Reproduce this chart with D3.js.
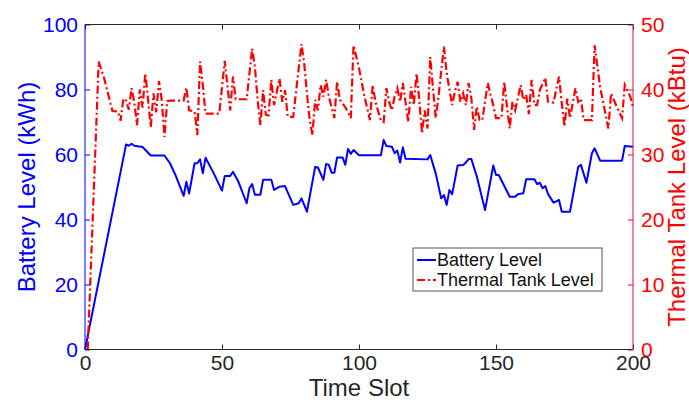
<!DOCTYPE html>
<html>
<head>
<meta charset="utf-8">
<script src="https://cdn.jsdelivr.net/npm/d3@7"></script>
<style>
  body { margin: 0; background: #fff; }
  text { font-family: "Liberation Sans", Arial, sans-serif; }
</style>
</head>
<body>
<div id="main"></div>
<script>
// battery level (kWh), at the slots where the line turns
const battSlots = [0, 15, 16, 17, 18, 21, 24, 29, 31, 33, 36, 37, 38, 40, 41, 42, 43, 44, 47, 50,
  51, 53, 54, 56, 59, 60, 61, 62, 64, 65, 68, 69, 71, 73, 76, 78, 79, 80, 81, 84,
  85, 87, 88, 89, 90, 91, 92, 94, 95, 96, 97, 98, 100, 108, 109, 110, 112, 113, 114, 115,
  116, 117, 125, 126, 128, 130, 131, 132, 133, 134, 136, 138, 139, 140, 141, 143, 146, 149, 150, 151,
  155, 157, 158, 160, 161, 164, 165, 166, 167, 168, 169, 171, 173, 174, 177, 180, 181, 183, 185, 186,
  188, 196, 197, 200];
const battLevel = [0, 63.1, 62.7, 63.3, 62.7, 62.3, 59.7, 59.7, 57.3, 53.7, 47.3, 51.6, 48, 57.3, 57.3, 58.5, 54.2, 59, 54.2, 48.9,
  53.4, 53.4, 54.7, 51.6, 45, 49.6, 50.9, 47.6, 47.6, 52.2, 52.2, 49.1, 50.1, 50.3, 44.5, 45, 46.5, 44.5, 42.4, 56.2,
  56, 52.2, 57.1, 56.8, 54.4, 54.4, 59.1, 59.1, 56.8, 61.7, 60.2, 61.4, 59.8, 59.8, 64.5, 62.6, 62.4, 60.4, 61.2, 57.5,
  62.2, 58.7, 58.5, 59.8, 54.2, 46.5, 47.5, 44.5, 49.1, 47.8, 56.6, 56.8, 57.5, 58.6, 58.6, 53.2, 42.9, 56.6, 53.7, 53.7,
  47, 47, 47.8, 48.1, 52.4, 52.4, 50.9, 51.3, 49.6, 50.3, 47.8, 45.2, 46, 42.4, 42.4, 56.2, 56.8, 51.3, 60.4, 61.9,
  58.1, 58.1, 62.6, 62.4];

// thermal tank level (kBtu)
const tankSlots = [1, 5, 7, 10, 12, 13, 14, 15, 16, 17, 18, 19, 20, 21, 22, 23, 24, 25, 26, 27,
  28, 29, 30, 31, 36, 37, 38, 40, 41, 42, 43, 44, 49, 51, 52, 53, 54, 55, 59, 61,
  62, 63, 64, 65, 66, 67, 68, 69, 70, 71, 72, 73, 74, 76, 79, 80, 81, 82, 83, 84,
  85, 86, 87, 88, 89, 91, 92, 93, 95, 97, 98, 100, 102, 104, 105, 106, 108, 109, 110, 111,
  112, 113, 114, 115, 116, 118, 119, 120, 121, 122, 123, 124, 125, 126, 127, 128, 129, 131, 132, 134,
  135, 136, 137, 138, 139, 140, 141, 142, 143, 144, 145, 147, 148, 149, 150, 152, 153, 154, 155, 156,
  157, 159, 160, 161, 162, 163, 164, 165, 166, 168, 169, 171, 173, 174, 175, 176, 177, 179, 180, 181,
  182, 185, 186, 188, 191, 192, 194, 196, 197, 199, 200];
const tankLevel = [0, 44.3, 41.7, 36.7, 36.6, 35.2, 38.6, 38.3, 36.9, 40.2, 38, 34.5, 40, 37.2, 42.5, 38.5, 34.2, 39.4, 36.5, 41.3,
  38.4, 32.7, 38.2, 38.3, 38.3, 40.3, 36.8, 36.6, 33, 44.3, 40.7, 36.3, 36.3, 44.4, 40.5, 36.8, 42, 38.5, 38.5, 46.3,
  43.5, 38.4, 34.5, 39.9, 36.1, 36, 41.5, 37.6, 39.7, 41.7, 38.1, 39.9, 35.8, 35.8, 47, 44, 39.4, 35.3, 33, 38.4,
  36.8, 40.7, 38.9, 41.5, 38.9, 35.6, 41.2, 38.4, 37.3, 35.6, 46.8, 43.3, 38.9, 35.3, 40.7, 38.1, 35.2, 35, 40.2, 38.1,
  36.8, 38.9, 40.2, 38.1, 41, 35, 40.4, 37.6, 42.5, 38.4, 33.3, 36.8, 34, 45, 40.2, 35.6, 38.9, 46.6, 42.5, 37.6,
  39.7, 41.2, 38.1, 39.4, 37.6, 41, 38.7, 33.8, 37.4, 35.3, 35.3, 41, 39.2, 37.6, 35.6, 35.6, 41.2, 37.4, 34, 38.1,
  36.8, 40.7, 38.4, 39.2, 36.2, 41.5, 37.6, 37.6, 39.9, 41.8, 38.1, 38, 42, 37.9, 34.3, 38.6, 35.6, 40.2, 38.1, 38.6,
  35.3, 35.3, 46.8, 40.4, 34, 39.4, 37.4, 35.6, 40.7, 38.9, 37.3];

const xTicks = [0, 50, 100, 150, 200];
const leftTicks = [0, 20, 40, 60, 80, 100];
const rightTicks = [0, 10, 20, 30, 40, 50];
const seriesNames = ["Battery Level", "Thermal Tank Level"];

const W = 689, H = 403;
const box = { left: 85, right: 633, top: 24.5, bottom: 349.5 };
const BLUE = "#0000ff", RED = "#ff0000", DARK = "#262626";
const DASHDOT = "8,3,2,3";

const svg = d3.select("#main").append("svg")
    .attr("width", W)
    .attr("height", H);

const x = d3.scaleLinear().domain([0, 200]).range([box.left, box.right]);
const yL = d3.scaleLinear().domain([0, 100]).range([box.bottom, box.top]);
const yR = d3.scaleLinear().domain([0, 50]).range([box.bottom, box.top]);

// lines
const battData = battSlots.map((s, i) => [s, battLevel[i]]);
const tankData = tankSlots.map((s, i) => [s, tankLevel[i]]);

svg.append("path")
    .datum(battData)
    .attr("fill", "none")
    .attr("stroke", BLUE)
    .attr("stroke-width", 2)
    .attr("stroke-linejoin", "round")
    .attr("d", d3.line().x(d => x(d[0])).y(d => yL(d[1])));

svg.append("path")
    .datum(tankData)
    .attr("fill", "none")
    .attr("stroke", RED)
    .attr("stroke-width", 2.2)
    .attr("stroke-dasharray", DASHDOT)
    .attr("d", d3.line().x(d => x(d[0])).y(d => yR(d[1])));

// axes, ticks point inward like matlab
function styleAxis(g, color, size) {
    g.select(".domain").remove();
    g.selectAll(".tick line").attr("stroke", color);
    g.selectAll(".tick text")
        .attr("fill", color)
        .style("font-size", size + "px");
}

svg.append("g")
    .attr("transform", `translate(0,${box.bottom})`)
    .call(d3.axisBottom(x).tickValues(xTicks).tickSize(-5).tickPadding(6))
    .call(g => styleAxis(g, DARK, 21));

svg.append("g")
    .attr("transform", `translate(0,${box.top})`)
    .call(d3.axisTop(x).tickValues(xTicks).tickSize(-5).tickFormat(""))
    .call(g => styleAxis(g, DARK, 21));

svg.append("g")
    .attr("transform", `translate(${box.left},0)`)
    .call(d3.axisLeft(yL).tickValues(leftTicks).tickSize(-5).tickPadding(7))
    .call(g => styleAxis(g, BLUE, 21));

svg.append("g")
    .attr("transform", `translate(${box.right},0)`)
    .call(d3.axisRight(yR).tickValues(rightTicks).tickSize(-5).tickPadding(8))
    .call(g => styleAxis(g, RED, 21));

// frame
svg.append("line").attr("x1", box.left).attr("x2", box.right)
    .attr("y1", box.top).attr("y2", box.top).attr("stroke", DARK);
svg.append("line").attr("x1", box.left).attr("x2", box.right)
    .attr("y1", box.bottom).attr("y2", box.bottom).attr("stroke", DARK);
svg.append("line").attr("x1", box.left).attr("x2", box.left)
    .attr("y1", box.top).attr("y2", box.bottom).attr("stroke", BLUE);
svg.append("line").attr("x1", box.right).attr("x2", box.right)
    .attr("y1", box.top).attr("y2", box.bottom).attr("stroke", "#d0103a");

// axis titles
svg.append("text")
    .attr("x", (box.left + box.right) / 2)
    .attr("y", 396)
    .attr("text-anchor", "middle")
    .attr("fill", DARK)
    .style("font-size", "24px")
    .text("Time Slot");

svg.append("text")
    .attr("transform", `translate(35,${(box.top + box.bottom) / 2}) rotate(-90)`)
    .attr("text-anchor", "middle")
    .attr("fill", BLUE)
    .style("font-size", "24px")
    .text("Battery Level (kWh)");

svg.append("text")
    .attr("transform", `translate(685,${(box.top + box.bottom) / 2}) rotate(-90)`)
    .attr("text-anchor", "middle")
    .attr("fill", RED)
    .style("font-size", "24px")
    .text("Thermal Tank Level (kBtu)");

// legend
const leg = svg.append("g").attr("transform", "translate(413,248)");
leg.append("rect")
    .attr("width", 189)
    .attr("height", 43)
    .attr("fill", "#fff")
    .attr("stroke", "#555");
const legRows = leg.selectAll(".row")
    .data(seriesNames)
    .enter().append("g")
    .attr("transform", (d, i) => `translate(0,${12 + i * 20})`);
legRows.append("line")
    .attr("x1", 4).attr("x2", 23)
    .attr("stroke", (d, i) => i ? RED : BLUE)
    .attr("stroke-width", 2)
    .attr("stroke-dasharray", (d, i) => i ? DASHDOT : null);
legRows.append("text")
    .attr("x", 24)
    .attr("dy", "0.35em")
    .attr("fill", "#111")
    .style("font-size", "18px")
    .text(d => d);
</script>
</body>
</html>
